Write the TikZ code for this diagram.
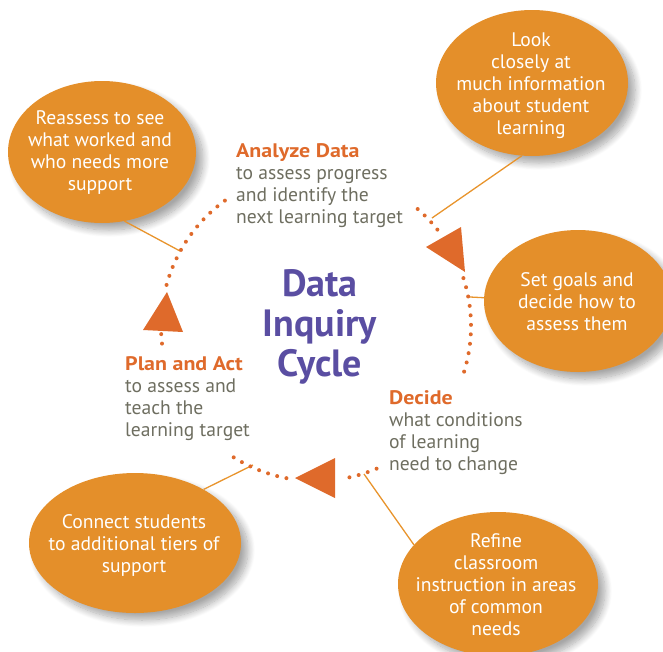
\documentclass[tikz,border=0pt]{standalone}
\usepackage{fontspec}
\setmainfont{PT Sans}
\newfontfamily\hdfont[FakeStretch=1.12]{PT Sans}
\usetikzlibrary{shapes.geometric,shadows.blur}
\definecolor{bubblefill}{HTML}{E48F2A}
\definecolor{accent}{HTML}{DF6A2B}
\definecolor{graytext}{HTML}{6E6E60}
\definecolor{titlepurple}{HTML}{5A4EA2}
\definecolor{connline}{HTML}{E8942C}
\tikzset{
  bubble/.style={ellipse, fill=bubblefill, draw=none, inner sep=0pt,
    blur shadow={shadow xshift=7pt, shadow yshift=-7pt, shadow blur radius=7pt, shadow blur steps=12, shadow opacity=35}},
  bubtext/.style={text=white, align=center, inner sep=0pt, font=\fontsize{19.6}{22}\selectfont},
  steptext/.style={text=graytext, align=left, anchor=north west, inner sep=0pt, font=\fontsize{19.6}{22}\selectfont},
  conn/.style={draw=connline, line width=1.3pt},
  dots/.style={draw=accent, line width=4pt, line cap=round, dash pattern=on 0pt off 9.5pt},
  arrowtri/.style={fill=accent, draw=none},
}
\newcommand{\hd}[1]{{\color{accent}\hdfont\bfseries #1}}
\begin{document}
\begin{tikzpicture}[x=1pt,y=-1pt]
\useasboundingbox (0,0) rectangle (663,651);
% bubbles
\node[bubble, minimum width=192pt, minimum height=146pt] (look) at (532,83) {};
\node[bubble, minimum width=188pt, minimum height=142pt] (goals) at (578,301) {};
\node[bubble, minimum width=188pt, minimum height=142pt] (reas) at (102,152) {};
\node[bubble, minimum width=212pt, minimum height=140pt] (conn) at (135,543) {};
\node[bubble, minimum width=200pt, minimum height=144pt] (refine) at (498,584) {};
\node[bubtext] (lookt) at (531,86) {Look\\closely at\\much information\\about student\\learning};
\node[bubtext] (goalst) at (577,302) {Set goals and\\decide how to\\assess them};
\node[bubtext] (reast) at (100,153) {Reassess to see\\what worked and\\who needs more\\support};
\node[bubtext] (connt) at (134,545) {Connect students\\to additional tiers of\\support};
\node[bubtext] (refinet) at (496,585) {Refine\\classroom\\instruction in areas\\of common\\needs};
% circle points
\coordinate (creas) at (180,251);
\coordinate (clook) at (432,218);
\coordinate (cgoals) at (470,297);
\coordinate (cconn) at (253,465);
\coordinate (crefine) at (364,474);
% connectors
\draw[conn] (reas.-72) -- (creas);
\draw[conn] (look.-98) -- (clook);
\draw[conn] (goals.178) -- (cgoals);
\draw[conn] (conn.38) -- (cconn);
\draw[conn] (refine.155) -- (crefine);
% dotted cycle
\draw[dots] plot[domain=126:166, samples=60] ({316+155*cos(\x)}, {326-155*sin(\x)});
\draw[dots] plot[domain=183:188, samples=10] ({316+155*cos(\x)}, {326-155*sin(\x)});
\draw[dots] plot[domain=49:37, samples=30] ({316+155*cos(\x)}, {326-155*sin(\x)});
\draw[dots] plot[domain=18:-19, samples=60] ({316+155*cos(\x)}, {326-155*sin(\x)});
\draw[dots] plot[domain=-67:-79, samples=30] ({316+155*cos(\x)}, {326-155*sin(\x)});
\draw[dots] plot[domain=-101:-125, samples=60] ({316+155*cos(\x)}, {326-155*sin(\x)});
% arrow triangles
\fill[arrowtri] (426,247) -- (461,227) -- (465,272) -- cycle;
\fill[arrowtri] (335,458) -- (335,498) -- (295,478) -- cycle;
\fill[arrowtri] (143,330) -- (183,332) -- (167,292) -- cycle;
% step texts
\node[steptext] (analyze) at (236,143) {\hd{Analyze Data}\\to assess progress\\and identify the\\next learning target};
\node[steptext] (plan) at (125,356) {\hd{Plan and Act}\\to assess and\\teach the\\learning target};
\node[steptext] (decide) at (389,390) {\hd{Decide}\\what conditions\\of learning\\need to change};
% title
\node[text=titlepurple, align=center, inner sep=0pt, font=\fontsize{38}{40}\selectfont\bfseries] (title) at (320,327) {Data\\Inquiry\\Cycle};
\end{tikzpicture}
\end{document}
